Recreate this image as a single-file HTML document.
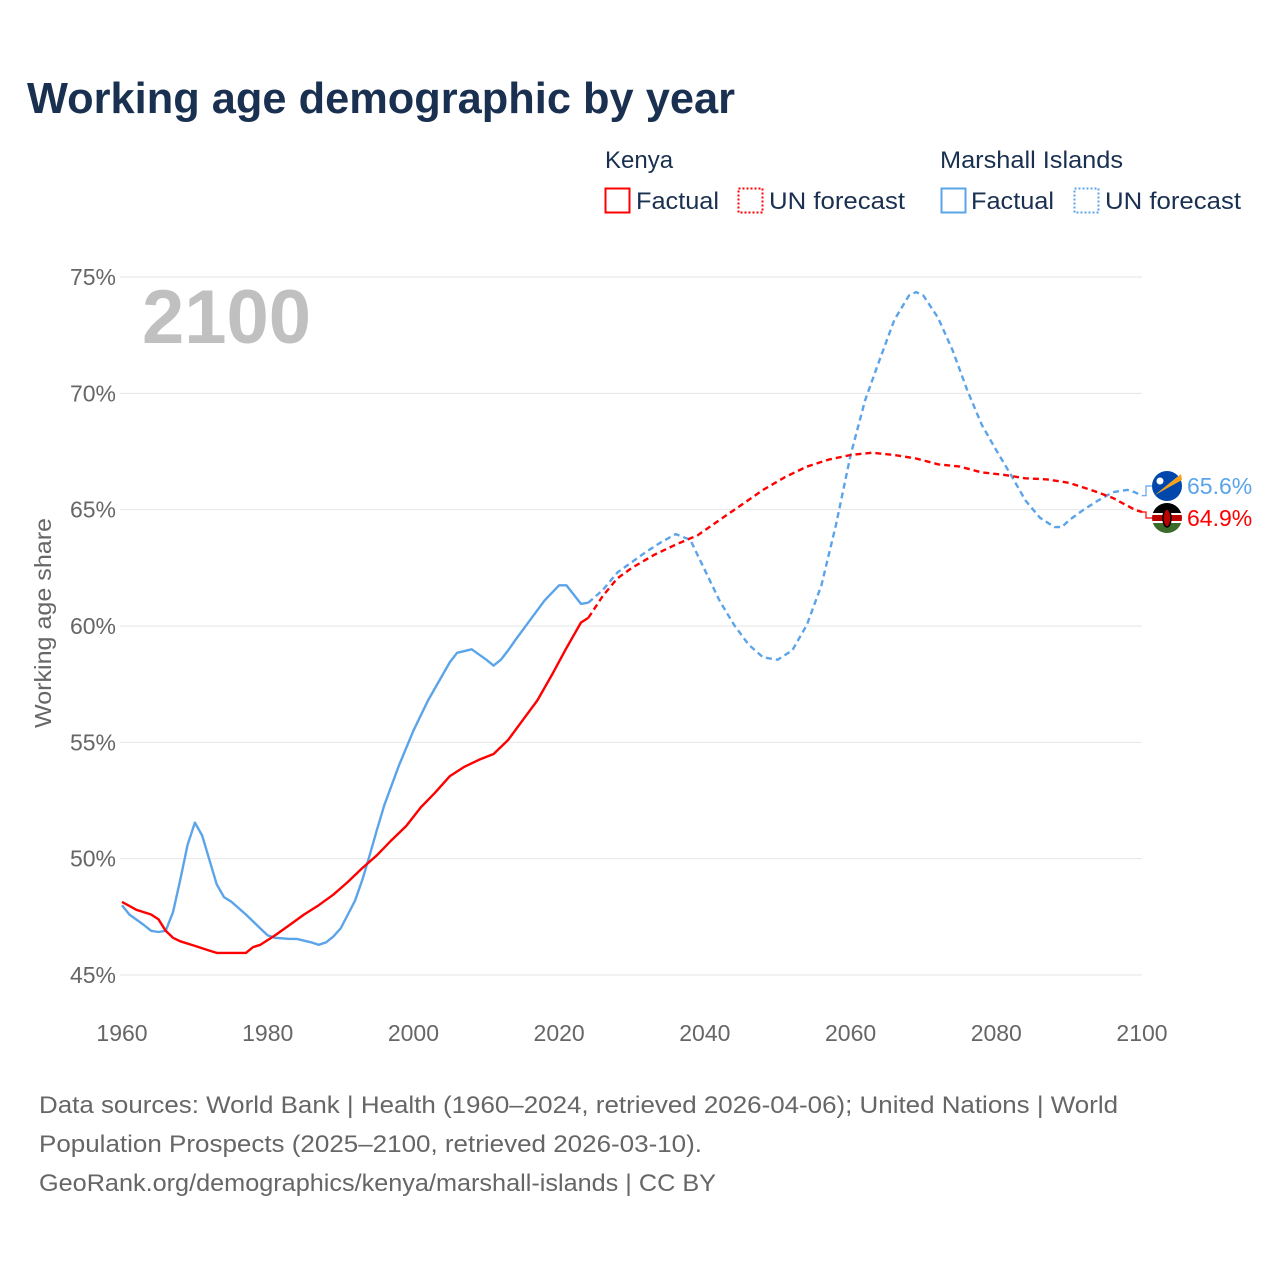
<!DOCTYPE html>
<html><head><meta charset="utf-8"><style>
body{margin:0;background:#fff;width:1280px;height:1280px;overflow:hidden;font-family:"Liberation Sans",sans-serif}
</style></head><body>
<svg id="chart" width="1280" height="1280" style="position:absolute;left:0;top:0">
<text x="27" y="113" font-size="44" font-weight="bold" fill="#1a3050" textLength="708" lengthAdjust="spacingAndGlyphs">Working age demographic by year</text>
<g font-size="24" fill="#1a3050">
<text x="605" y="168">Kenya</text>
<rect x="605.5" y="188.5" width="24" height="24" fill="none" stroke="#ff0000" stroke-width="2"/>
<text x="636" y="209" textLength="83" lengthAdjust="spacingAndGlyphs">Factual</text>
<rect x="738.5" y="188.5" width="24" height="24" fill="none" stroke="#ff0000" stroke-width="2" stroke-dasharray="2,2"/>
<text x="769" y="209" textLength="136" lengthAdjust="spacingAndGlyphs">UN forecast</text>
<text x="940" y="168" textLength="183" lengthAdjust="spacingAndGlyphs">Marshall Islands</text>
<rect x="941.5" y="188.5" width="24" height="24" fill="none" stroke="#5ba4ea" stroke-width="2"/>
<text x="971" y="209" textLength="83" lengthAdjust="spacingAndGlyphs">Factual</text>
<rect x="1074.5" y="188.5" width="24" height="24" fill="none" stroke="#5ba4ea" stroke-width="2" stroke-dasharray="2,2"/>
<text x="1105" y="209" textLength="136" lengthAdjust="spacingAndGlyphs">UN forecast</text>
</g>
<text x="142" y="343" font-size="76" font-weight="bold" fill="#c0c0c0">2100</text>
<text transform="translate(51,623) rotate(-90)" text-anchor="middle" font-size="23" fill="#666" textLength="210" lengthAdjust="spacingAndGlyphs">Working age share</text>
<g id="grid"></g><g id="lines"></g>
<g font-size="24" fill="#666">
<text x="39" y="1113" textLength="1079" lengthAdjust="spacingAndGlyphs">Data sources: World Bank | Health (1960–2024, retrieved 2026-04-06); United Nations | World</text>
<text x="39" y="1152" textLength="663" lengthAdjust="spacingAndGlyphs">Population Prospects (2025–2100, retrieved 2026-03-10).</text>
<text x="39" y="1191" textLength="677" lengthAdjust="spacingAndGlyphs">GeoRank.org/demographics/kenya/marshall-islands | CC BY</text>
</g>
</svg>
<script>
const yTicks=[45,50,55,60,65,70,75];
const xTicks=[1960,1980,2000,2020,2040,2060,2080,2100];
const kenyaFactYears=[1960,1962,1964,1965,1966,1967,1968,1970,1972,1973,1976,1977,1978,1979,1981,1983,1985,1987,1989,1991,1993,1995,1997,1999,2001,2003,2005,2007,2009,2011,2013,2015,2017,2019,2021,2023,2024];
const kenyaFactValues=[48.14,47.8,47.6,47.4,46.9,46.6,46.45,46.25,46.05,45.95,45.95,45.95,46.2,46.3,46.7,47.15,47.6,48.0,48.45,49.0,49.6,50.15,50.8,51.4,52.2,52.85,53.55,53.95,54.25,54.5,55.1,55.95,56.8,57.9,59.05,60.15,60.35];
const kenyaFcYears=[2024,2026,2028,2030,2033,2036,2039,2042,2045,2048,2051,2054,2057,2060,2063,2066,2069,2072,2075,2078,2081,2084,2087,2090,2093,2096,2099,2100];
const kenyaFcValues=[60.35,61.3,62.05,62.5,63.05,63.5,63.9,64.55,65.2,65.85,66.4,66.85,67.15,67.35,67.45,67.35,67.2,66.95,66.85,66.6,66.5,66.35,66.3,66.15,65.85,65.5,65.0,64.9];
const mhFactYears=[1960,1961,1963,1964,1965,1966,1967,1968,1969,1970,1971,1972,1973,1974,1975,1977,1979,1980,1981,1983,1984,1986,1987,1988,1989,1990,1991,1992,1993,1994,1995,1996,1998,2000,2002,2004,2005,2006,2008,2010,2011,2012,2013,2014,2016,2018,2020,2021,2023,2024];
const mhFactValues=[48.0,47.6,47.15,46.9,46.85,46.9,47.7,49.1,50.6,51.55,51.0,49.95,48.9,48.35,48.15,47.6,47.0,46.7,46.6,46.55,46.55,46.4,46.3,46.4,46.65,47.0,47.6,48.2,49.1,50.15,51.25,52.3,54.0,55.5,56.8,57.9,58.45,58.85,59.0,58.55,58.3,58.55,58.95,59.4,60.25,61.1,61.75,61.75,60.95,61.0];
const mhFcYears=[2024,2026,2028,2030,2032,2034,2036,2038,2040,2042,2044,2046,2048,2050,2052,2054,2056,2058,2060,2062,2064,2066,2068,2069,2070,2072,2074,2076,2078,2080,2082,2084,2086,2088,2089,2090,2092,2094,2096,2098,2099,2100];
const mhFcValues=[61.0,61.55,62.3,62.75,63.2,63.6,63.95,63.7,62.4,61.1,60.05,59.2,58.65,58.55,58.95,60.05,61.75,64.35,67.35,69.7,71.45,73.15,74.2,74.35,74.2,73.25,71.85,70.15,68.65,67.55,66.5,65.4,64.65,64.25,64.25,64.55,65.0,65.4,65.75,65.85,65.75,65.6];
const NS="http://www.w3.org/2000/svg";
const xS=y=>122+(y-1960)*1020/140;
const yS=v=>277+(75-v)*698/30;
const grid=document.getElementById('grid'),lines=document.getElementById('lines');
function mk(tag,attrs,parent){const e=document.createElementNS(NS,tag);for(const k in attrs)e.setAttribute(k,attrs[k]);parent.appendChild(e);return e;}
yTicks.forEach(t=>{
 const l=mk('line',{x1:120,x2:1142,y1:yS(t),y2:yS(t),stroke:'#e6e6e6','stroke-width':1},grid);
 
 
 const tx=mk('text',{x:116,y:yS(t)+8,'text-anchor':'end','font-size':23,fill:'#666'},grid);
 tx.textContent=t+'%';
 
 
});
xTicks.forEach(t=>{
 const tx=mk('text',{x:xS(t),y:1041,'text-anchor':'middle','font-size':23,fill:'#666'},grid);
 tx.textContent=t;
 
 
});
function line(xs,vs,color,dash,name){
 const d=xs.map((x,i)=>(i?'L':'M')+xS(x).toFixed(1)+','+yS(vs[i]).toFixed(1)).join('');
 const p=mk('path',{d:d,fill:'none',stroke:color,'stroke-width':2.4,'stroke-linejoin':'round'},lines);
 if(dash)p.setAttribute('stroke-dasharray',dash);
 
 
}
line(mhFactYears,mhFactValues,'#5ba4ea',null,'marshall-factual-line');
line(mhFcYears,mhFcValues,'#5ba4ea','6,4','marshall-forecast-line');
line(kenyaFactYears,kenyaFactValues,'#ff0000',null,'kenya-factual-line');
line(kenyaFcYears,kenyaFcValues,'#ff0000','6,4','kenya-forecast-line');
const mEnd=mhFcValues[mhFcValues.length-1],kEnd=kenyaFcValues[kenyaFcValues.length-1];
const my=486,ky=518;
mk('path',{d:`M${xS(2100)},${yS(mEnd)}H1146V${my}H1152`,fill:'none',stroke:'#5ba4ea','stroke-width':1.2},lines);
mk('path',{d:`M${xS(2100)},${yS(kEnd)}H1146V${ky}H1152`,fill:'none',stroke:'#ff0000','stroke-width':1.2},lines);
const fm=mk('g',{},lines);


mk('circle',{cx:1167,cy:my,r:15,fill:'#0047ab'},fm);
mk('path',{d:`M1155,${my+9}L1181,${my-12}L1180,${my-9}Z`,fill:'#fff'},fm);
mk('path',{d:`M1155,${my+9}L1181,${my-12}L1182,${my-6}Z`,fill:'#f7a11a'},fm);
mk('circle',{cx:1160,cy:my-5,r:3.5,fill:'#fff'},fm);
const fk=mk('g',{},lines);


const cp=mk('clipPath',{id:'kc'},fk);mk('circle',{cx:1167,cy:ky,r:15},cp);
const kg=mk('g',{'clip-path':'url(#kc)'},fk);
mk('rect',{x:1150,y:ky-16,width:34,height:11,fill:'#000'},kg);
mk('rect',{x:1150,y:ky-5,width:34,height:10,fill:'#fff'},kg);
mk('rect',{x:1150,y:ky-3,width:34,height:6,fill:'#b00'},kg);
mk('rect',{x:1150,y:ky+5,width:34,height:11,fill:'#3a6b2a'},kg);
mk('ellipse',{cx:1167,cy:ky,rx:4,ry:9,fill:'#b00',stroke:'#000','stroke-width':1.5},kg);
const lm=mk('text',{x:1187,y:my+8,'font-size':23,fill:'#5ba4ea'},lines);
lm.textContent=mEnd.toFixed(1)+'%';


const lk=mk('text',{x:1187,y:ky+8,'font-size':23,fill:'#ff0000'},lines);
lk.textContent=kEnd.toFixed(1)+'%';


</script>
</body></html>
